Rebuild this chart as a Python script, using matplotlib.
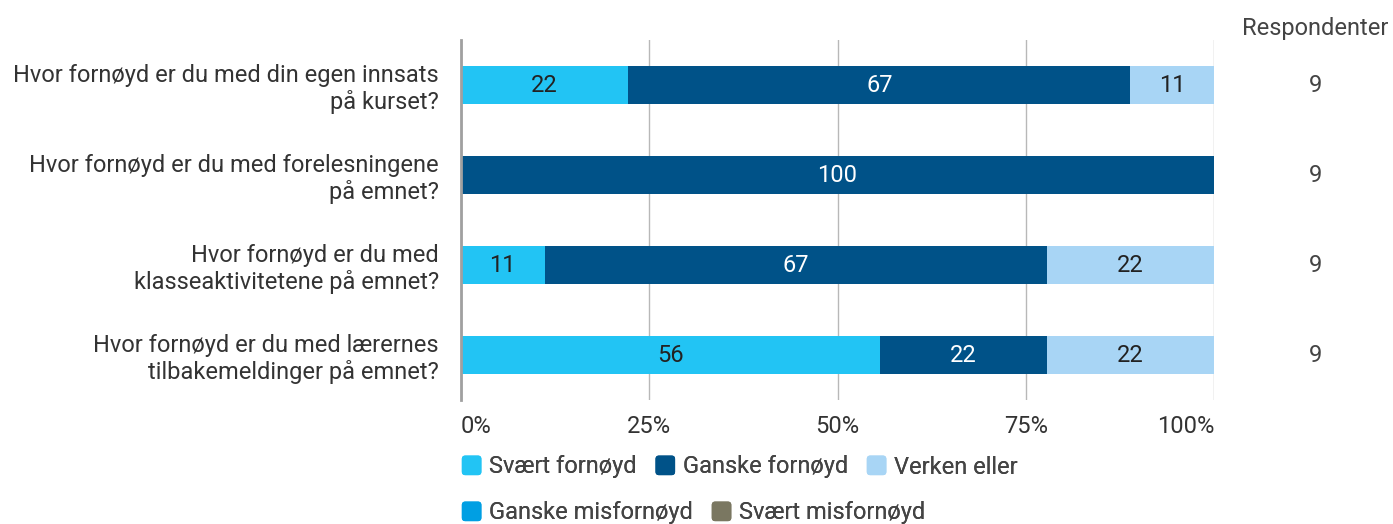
import matplotlib.pyplot as plt
import numpy as np
from matplotlib.patches import FancyBboxPatch
from matplotlib.legend_handler import HandlerPatch

plt.rcParams['font.family'] = ['Roboto', 'DejaVu Sans']

questions = [
    "Hvor fornøyd er du med din egen innsats\npå kurset?",
    "Hvor fornøyd er du med forelesningene\npå emnet?",
    "Hvor fornøyd er du med\nklasseaktivitetene på emnet?",
    "Hvor fornøyd er du med lærernes\ntilbakemeldinger på emnet?",
]
categories = ["Svært fornøyd", "Ganske fornøyd", "Verken eller",
              "Ganske misfornøyd", "Svært misfornøyd"]
colors = ["#22c4f4", "#005288", "#a8d5f5", "#009fe3", "#7a7761"]
label_colors = ["#222222", "#ffffff", "#222222", "#ffffff", "#ffffff"]

# percent per category, one list per question
svaert_fornoyd = [22.2, 0, 11.1, 55.6]
ganske_fornoyd = [66.7, 100, 66.7, 22.2]
verken_eller = [11.1, 0, 22.2, 22.2]
ganske_misfornoyd = [0, 0, 0, 0]
svaert_misfornoyd = [0, 0, 0, 0]
respondents = [9, 9, 9, 9]
x_ticks = [0, 25, 50, 75, 100]
x_tick_labels = ["0%", "25%", "50%", "75%", "100%"]

series = [svaert_fornoyd, ganske_fornoyd, verken_eller, ganske_misfornoyd, svaert_misfornoyd]
fs = 17

fig = plt.figure(figsize=(13.93, 5.24), dpi=100)
ax = fig.add_axes([461 / 1393, 1 - 400 / 524, 753 / 1393, 360 / 524])

y = np.arange(len(questions))
left = np.zeros(len(questions))
for vals, color, lc in zip(series, colors, label_colors):
    vals = np.array(vals, dtype=float)
    ax.barh(y, vals, left=left, height=0.42, color=color, zorder=3)
    for yi, (l, v) in enumerate(zip(left, vals)):
        if v > 0:
            ax.text(l + v / 2, yi, f"{v:.0f}", ha='center', va='center',
                    fontsize=fs, color=lc, zorder=4)
    left += vals

ax.set_xlim(0, 100)
ax.set_ylim(len(questions) - 0.5, -0.5)
ax.set_yticks(y)
ax.set_yticklabels(questions, fontsize=fs, color='#333333', ha='right',
                   linespacing=1.15)
ax.set_xticks(x_ticks)
labels = ax.set_xticklabels(x_tick_labels, fontsize=fs, color='#333333')
labels[0].set_ha('left')
labels[-1].set_ha('right')
ax.tick_params(axis='both', length=0)
ax.tick_params(axis='y', pad=16)
ax.tick_params(axis='x', pad=11)
for s in ['top', 'right', 'bottom']:
    ax.spines[s].set_visible(False)
ax.spines['left'].set_color('#a0a0a0')
ax.spines['left'].set_linewidth(2)
ax.spines['left'].set_zorder(5)
ax.grid(axis='x', color='#b8b8b8', linewidth=1, zorder=0)

# respondents column
fig.text(1315 / 1393, 1 - 28 / 524, "Respondenter", ha='center', va='center',
         fontsize=fs, color='#444444')
for yi, n in enumerate(respondents):
    ax.text(1.135, yi, str(n), transform=ax.get_yaxis_transform(),
            ha='center', va='center', fontsize=fs, color='#444444')


class RoundHandler(HandlerPatch):
    def create_artists(self, legend, orig_handle, xdescent, ydescent,
                       width, height, fontsize, trans):
        s = min(width, height)
        p = FancyBboxPatch((-xdescent + (width - s) / 2, -ydescent + (height - s) / 2), s, s,
                           boxstyle="round,pad=0,rounding_size=2.5",
                           facecolor=orig_handle.get_facecolor(), edgecolor='none',
                           transform=trans)
        return [p]


handles = [plt.Rectangle((0, 0), 1, 1, facecolor=c) for c in colors]
rows = [(0, 3, 1 - 467 / 524), (3, 5, 1 - 513 / 524)]
for a, b, yy in rows:
    leg = fig.legend(handles[a:b], categories[a:b], loc='center left',
                     bbox_to_anchor=(461 / 1393, yy), ncol=b - a, frameon=False,
                     fontsize=fs, handlelength=0.9, handleheight=0.9,
                     handletextpad=0.3, columnspacing=0.75, borderaxespad=0,
                     borderpad=0, labelcolor='#444444',
                     handler_map={plt.Rectangle: RoundHandler()})
    fig.add_artist(leg)

fig.savefig("out.png", dpi=100)
